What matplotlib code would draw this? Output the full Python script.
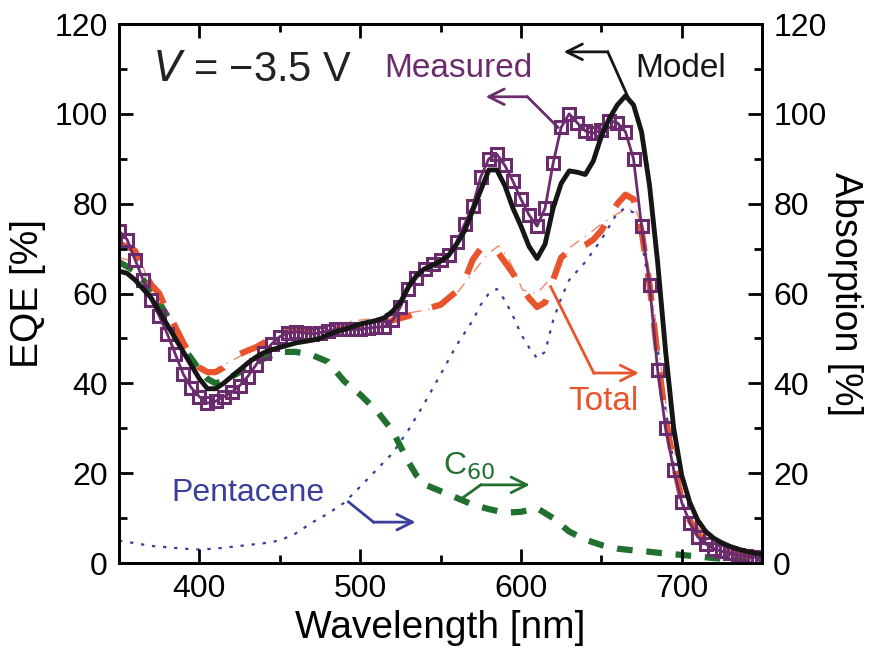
import numpy as np
import matplotlib
matplotlib.use("Agg")
import matplotlib.pyplot as plt
from matplotlib.ticker import MultipleLocator

plt.rcParams['font.family'] = ['Liberation Sans', 'DejaVu Sans']

# measured and model EQE, 5 nm steps
wl = np.arange(350, 751, 5)
measured = [74, 72, 67.5, 63, 58.6, 55, 51, 46.5, 42, 39, 37, 35.6, 36, 37, 38, 39.5,
            41.5, 44, 46.8, 48.8, 50.4, 51.2, 51.5, 51.2, 51, 51.3, 51.7, 52, 52, 52,
            52, 52.3, 52.5, 52.6, 54, 57, 61, 63.5, 65.5, 66.5, 67.5, 68.5, 71.5, 75.5,
            79.5, 86, 90, 91, 88.5, 85, 81, 77.5, 75, 79, 89, 97, 100, 98, 96.2, 95.7,
            96.5, 98.5, 98, 96, 90, 75, 62, 43, 30, 20.7, 13.5, 9, 5.8, 4.2, 3.2, 2.6,
            2.2, 1.8, 1.5, 1.3, 1.1]
model = [65, 64.5, 63, 61, 59, 56, 53, 50, 47, 44, 41, 38.8, 38.8, 40, 41.5, 43,
         44.5, 45.8, 46.8, 47.5, 48, 48.5, 49, 49.3, 49.6, 50, 50.8, 51.5, 52, 52.6,
         53.2, 53.6, 54, 54.6, 56, 58, 61.5, 64, 65.5, 66.3, 67.2, 68.5, 71, 74, 78.5,
         83, 87.5, 87.5, 84, 79, 75, 70.5, 67.8, 71, 79, 84.5, 87.3, 87, 86.5, 89.5,
         95, 99, 102, 104, 102, 96, 84, 67, 47, 30, 19.5, 13.5, 9.5, 7, 5.5, 4.5, 3.7,
         3.1, 2.6, 2.2, 1.9]

# total absorption (thick dashed)
total_wl = [350, 355, 360, 365, 370, 375, 380, 385, 390, 395, 400, 405, 410, 415, 420,
            425, 430, 435, 440, 445, 450, 455, 460, 470, 480, 490, 500, 510, 520, 530,
            540, 550, 560, 565, 570, 575, 580, 585, 590, 595, 600, 605, 610, 615, 620,
            625, 630, 635, 640, 645, 650, 655, 660, 665, 670, 675, 680, 685, 690, 695,
            700, 705, 710, 715, 720, 730, 740, 750]
total = [71, 70.5, 69.5, 65, 62, 60, 56, 52.6, 49, 46, 43.5, 42.5, 42.5, 43.5, 45.5,
         46.5, 47.3, 48, 49, 50, 51, 51.5, 51.8, 52, 52, 52.2, 52.6, 53, 54, 55, 56.5,
         57.5, 60.5, 63, 67.5, 70, 70.4, 69.5, 67, 64.5, 61.5, 59, 57, 58, 63, 68, 69.5,
         70, 70.8, 72, 74, 77, 80, 82, 81, 74, 62, 46, 32, 22, 14, 9.5, 6.5, 4.5, 3.5,
         2.3, 1.6, 1.2]

# thin total (dash-dot)
thin_wl = [350, 360, 365, 372, 385, 395, 407, 420, 440, 460, 480, 492, 520, 548, 560,
           570, 580, 586, 592, 601, 610, 620, 631, 641, 651, 661, 671, 676, 681, 686,
           691, 700, 710, 720, 735, 750]
thin_total = [68, 67, 66, 57, 47.4, 44, 42.5, 45, 49, 51.5, 52.5, 53.7, 55, 56.8, 60,
              64.6, 69, 70.6, 68, 60.8, 60, 64, 70.4, 73, 75.7, 78, 79, 74, 62, 47, 33,
              17, 8, 4.5, 2.3, 1.3]

# C60 absorption
c60_wl = [350, 355, 360, 365, 370, 375, 380, 385, 390, 395, 400, 405, 410, 415, 420,
          425, 430, 440, 450, 460, 470, 480, 490, 500, 510, 520, 525, 530, 535, 540,
          550, 560, 570, 580, 590, 600, 610, 620, 630, 640, 650, 660, 670, 680, 690,
          700, 720, 750]
c60 = [67, 66, 65, 63, 61, 58, 55, 51.5, 48, 45.5, 43, 41, 40, 40.5, 41.5, 42.5, 43.5,
       45.5, 47, 47, 46.3, 44.8, 40.5, 37.5, 34, 29.5, 26, 22.5, 19.5, 17.5, 16, 14.5,
       13, 12, 11.2, 11.4, 12.2, 10, 7, 5.2, 4, 3.2, 2.8, 2.5, 2.1, 1.8, 1.1, 0.3]

# pentacene absorption
pen_wl = [350, 360, 370, 380, 390, 400, 410, 420, 430, 440, 450, 460, 470, 480, 490,
          500, 510, 520, 530, 540, 550, 560, 570, 575, 580, 585, 590, 595, 600, 605,
          610, 615, 620, 625, 630, 635, 640, 645, 650, 655, 660, 665, 670, 675, 680,
          685, 690, 695, 700, 705, 710, 720, 730, 750]
pentacene = [5, 4.4, 3.8, 3.5, 3.2, 3, 3.2, 3.6, 4, 4.4, 5, 6.6, 9, 11, 13.4, 17, 20.7,
             24.4, 29.6, 35.6, 42, 48.5, 54, 57.5, 60, 61, 58.5, 55, 51, 48, 45.6, 47,
             54, 59, 63, 65, 67, 69.5, 72, 75, 78, 79, 78, 72, 61, 48, 34, 22, 14, 9, 6,
             3, 1.5, 0.5]

c_meas = '#6b2c6e'
c_model = '#161616'
c_total = '#e8542c'
c_c60 = '#22702f'
c_pen = '#3a3f9c'

fig = plt.figure(figsize=(8.69, 6.49), dpi=100)
ax = fig.add_axes([0.137, 0.1325, 0.740, 0.8305])
ax2 = ax.twinx()

ax2.plot(pen_wl, pentacene, color=c_pen, lw=1.6, ls=(0, (1.5, 3.5)))
ax2.plot(thin_wl, thin_total, color=c_total, lw=1.0, alpha=0.7, ls=(0, (8, 5, 1, 5)))
ax2.plot(c60_wl, c60, color=c_c60, lw=4.5, ls=(0, (2.5, 2.2)))
ax2.plot(total_wl, total, color=c_total, lw=4.5, ls=(0, (4.5, 3.5)))
ax.plot(wl, measured, color=c_meas, lw=2, marker='s', ms=9, mfc='none', mew=2.2,
        mec=c_meas)
ax.plot(wl, model, color=c_model, lw=3.5)

ax.set_zorder(ax2.get_zorder() + 1)
ax.patch.set_visible(False)

for a in (ax, ax2):
    a.set_xlim(350, 750)
    a.set_ylim(0, 120)
    a.yaxis.set_major_locator(MultipleLocator(20))
    a.yaxis.set_minor_locator(MultipleLocator(10))
    a.tick_params(which='both', direction='in', width=2, labelsize=23, pad=8)
    a.tick_params(which='major', length=10)
    a.tick_params(which='minor', length=6)
    for s in a.spines.values():
        s.set_linewidth(2)
ax.xaxis.set_major_locator(MultipleLocator(100))
ax.xaxis.set_minor_locator(MultipleLocator(50))
ax.tick_params(which='both', top=True)
ax.tick_params(axis='y', right=False)

ax.set_xlabel('Wavelength [nm]', fontsize=28, labelpad=4)
ax.set_ylabel('EQE [%]', fontsize=28, labelpad=6)
ax2.set_ylabel('Absorption [%]', fontsize=27, rotation=270, labelpad=26)


def arrow(axis, pts, color):
    xs = [p[0] for p in pts]
    ys = [p[1] for p in pts]
    axis.plot(xs[:-1], ys[:-1], color=color, lw=2)
    axis.annotate('', xy=pts[-1], xytext=pts[-2],
                  arrowprops=dict(arrowstyle='->', color=color, lw=2,
                                  mutation_scale=28, shrinkA=0, shrinkB=0))


ax.text(0.053, 0.915, r'$\mathit{V}$ = −3.5 V', transform=ax.transAxes, fontsize=30,
        ha='left', va='center', color='#222222')
ax.text(561, 110, 'Measured', color=c_meas, fontsize=24, ha='center', va='center')
arrow(ax, [(623, 97), (604, 103.8), (578, 103.8)], c_meas)
ax.text(699.5, 110, 'Model', color=c_model, fontsize=24, ha='center', va='center')
arrow(ax, [(666.5, 103.8), (654, 113.8), (626.6, 113.8)], c_model)
ax.text(651.5, 36, 'Total', color=c_total, fontsize=24, ha='center', va='center')
arrow(ax, [(618.5, 61.5), (645.3, 42.3), (673.4, 42.3)], c_total)
ax.text(568, 21.5, r'C$_{60}$', color=c_c60, fontsize=23, ha='center', va='center')
arrow(ax, [(563.7, 14.5), (575, 17.4), (605.5, 17.4)], c_c60)
ax.text(430, 15.5, 'Pentacene', color=c_pen, fontsize=23, ha='center', va='center')
arrow(ax, [(492.7, 13.6), (508.3, 9.1), (534.4, 9.1)], c_pen)

fig.savefig('out.png', dpi=100)
